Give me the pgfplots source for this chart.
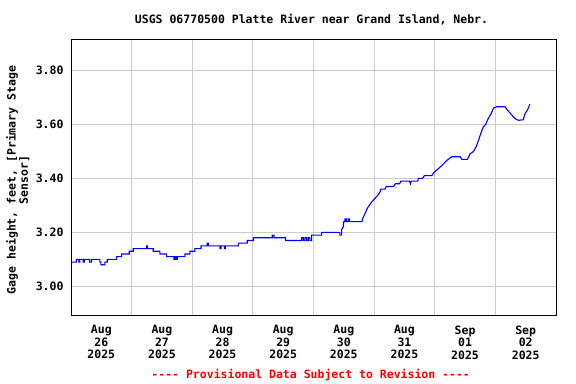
\documentclass[border=0pt]{standalone}
\usepackage{fontspec}
\setmainfont{DejaVu Sans Mono}[Ligatures=TeXOff]
\usepackage{pgfplots}
\pgfplotsset{compat=1.18}
\newcommand{\ff}{\fontsize{11.5bp}{12.5bp}\selectfont\bfseries}
\begin{document}
\begin{tikzpicture}
\useasboundingbox (-71bp,-69bp) rectangle (505bp,315bp);
\begin{axis}[
  scale only axis, width=485bp, height=276bp,
  xmin=0, xmax=8, ymin=2.894, ymax=3.916,
  xtick={0.5,1.5,2.5,3.5,4.5,5.5,6.5,7.5},
  xticklabels={{Aug\\26\\2025},{Aug\\27\\2025},{Aug\\28\\2025},{Aug\\29\\2025},{Aug\\30\\2025},{Aug\\31\\2025},{Sep\\01\\2025},{Sep\\02\\2025}},
  minor xtick={1,2,3,4,5,6,7},
  xminorgrids, xmajorgrids=false,
  ytick={3.0,3.2,3.4,3.6,3.8},
  yticklabels={3.00,3.20,3.40,3.60,3.80},
  ymajorgrids,
  major tick length=0pt, minor tick length=0pt,
  grid style={color=black!20, line width=0.9bp},
  minor grid style={color=black!20, line width=0.9bp},
  axis line style={line width=0.9bp, black},
  tick label style={font=\ff},
  xticklabel style={align=center, yshift=-7bp},
  yticklabel style={xshift=-4bp},
]
\addplot[color=blue, line width=1.1bp] coordinates {
(0,3.09)(0.09,3.09)(0.09,3.10)(0.13,3.10)(0.13,3.09)(0.147,3.09)(0.147,3.10)(0.20,3.10)(0.20,3.09)(0.218,3.09)(0.218,3.10)(0.31,3.10)(0.31,3.09)(0.339,3.09)(0.339,3.10)(0.477,3.10)(0.477,3.09)(0.493,3.09)(0.493,3.08)(0.559,3.08)(0.559,3.09)(0.598,3.09)(0.598,3.10)(0.752,3.10)(0.752,3.11)(0.834,3.11)(0.834,3.12)(0.961,3.12)(0.961,3.13)(1.027,3.13)(1.027,3.14)(1.247,3.14)(1.247,3.15)(1.263,3.15)(1.263,3.14)(1.357,3.14)(1.357,3.13)(1.467,3.13)(1.467,3.12)(1.577,3.12)(1.577,3.11)(1.698,3.11)(1.698,3.10)(1.72,3.10)(1.72,3.11)(1.735,3.11)(1.735,3.10)(1.753,3.10)(1.753,3.11)(1.879,3.11)(1.879,3.12)(1.962,3.12)(1.962,3.13)(2.044,3.13)(2.044,3.14)
(2.144,3.14)(2.144,3.15)(2.248,3.15)(2.248,3.16)(2.265,3.16)(2.265,3.15)(2.457,3.15)(2.457,3.14)(2.474,3.14)(2.474,3.15)(2.529,3.15)(2.529,3.14)(2.546,3.14)(2.546,3.15)(2.76,3.15)(2.76,3.16)(2.908,3.16)(2.908,3.17)(3.007,3.17)(3.007,3.18)(3.32,3.18)(3.32,3.19)(3.348,3.19)(3.348,3.18)(3.54,3.18)(3.54,3.17)(3.804,3.17)(3.804,3.18)(3.831,3.18)(3.831,3.17)(3.859,3.17)(3.859,3.18)(3.886,3.18)(3.886,3.17)(3.914,3.17)(3.914,3.18)(3.941,3.18)(3.941,3.17)(3.969,3.17)(3.969,3.19)(4.134,3.19)(4.134,3.20)(4.436,3.20)(4.436,3.19)(4.464,3.19)(4.464,3.21)(4.49,3.22)(4.50,3.24)(4.52,3.24)(4.52,3.25)(4.54,3.25)(4.54,3.24)(4.57,3.24)(4.57,3.25)(4.59,3.25)(4.59,3.24)(4.80,3.24)
(4.81,3.25)(4.83,3.26)(4.85,3.27)(4.87,3.28)(4.89,3.29)(4.92,3.30)(4.95,3.31)(4.99,3.32)(5.03,3.33)(5.07,3.34)(5.10,3.35)(5.11,3.36)(5.18,3.36)(5.20,3.37)(5.32,3.37)(5.35,3.38)(5.42,3.38)(5.44,3.39)(5.58,3.39)(5.60,3.38)(5.61,3.39)(5.72,3.39)(5.73,3.40)(5.80,3.40)(5.83,3.41)(5.95,3.41)(5.98,3.42)(6.03,3.43)(6.08,3.44)(6.13,3.45)(6.17,3.46)(6.22,3.47)(6.28,3.48)(6.42,3.48)(6.45,3.47)(6.54,3.47)(6.58,3.49)(6.64,3.50)(6.69,3.52)(6.75,3.56)(6.80,3.59)(6.84,3.60)(6.88,3.62)(6.93,3.64)(6.97,3.66)(7.02,3.665)(7.16,3.665)(7.21,3.65)(7.27,3.635)(7.33,3.62)(7.38,3.615)(7.46,3.617)(7.49,3.64)(7.53,3.653)(7.57,3.675)
};
\end{axis}
\node[anchor=base, font=\ff] at (240.5bp,291.8bp) {USGS 06770500 Platte River near Grand Island, Nebr.};
\node[rotate=90, align=center, anchor=center, font=\fontsize{11.5bp}{12.3bp}\selectfont\bfseries] at (-53.2bp,135bp) {Gage height, feet, [Primary Stage\\Sensor]};
\node[anchor=base, font=\ff, text=red] at (239.7bp,-63.5bp) {---- Provisional Data Subject to Revision ----};
\end{tikzpicture}
\end{document}
